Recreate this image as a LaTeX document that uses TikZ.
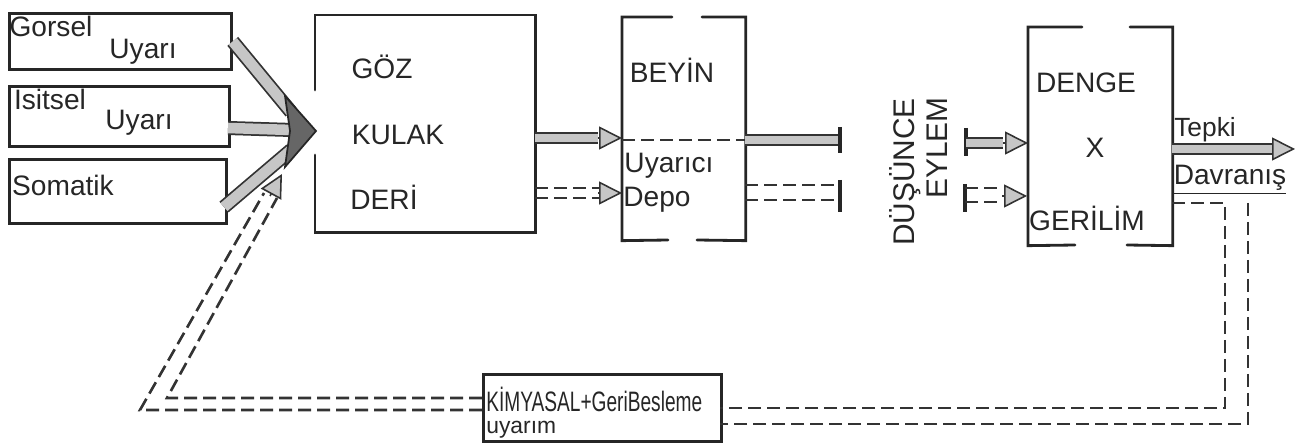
\documentclass[tikz,border=0pt]{standalone}
\usepackage{fontspec}
\usepackage{graphicx}
\setmainfont{Liberation Sans}
\usetikzlibrary{arrows.meta,calc}
\begin{document}
\begin{tikzpicture}[x=0.02cm,y=-0.02cm,
  lbl/.style={font=\fontsize{16}{18}\selectfont, text=black!85, inner sep=0},
  boxline/.style={line width=1.6pt, line cap=round, draw=black!85},
  band/.style={double=gray!45, double distance=5pt, line width=1pt, draw=black!80},
  ghead/.style={line width=0.9pt, draw=black!80, -{Triangle[length=0.46cm, width=0.46cm, fill=gray!45]}},
  ddash/.style={line width=1.5pt, draw=black!80, dash pattern=on 0.26cm off 0.12cm},
  tbar/.style={line width=2pt, draw=black!85}]
\useasboundingbox (0,0) rectangle (1297,448);

% ---------- left input boxes ----------
\node[boxline, draw, anchor=north west, inner sep=0, minimum width=4.44cm, minimum height=1.12cm] (gorsel) at (8,12) {};
\node[boxline, draw, anchor=north west, inner sep=0, minimum width=4.40cm, minimum height=1.20cm] (isitsel) at (8,85) {};
\node[boxline, draw, anchor=north west, inner sep=0, minimum width=4.34cm, minimum height=1.28cm] (somatik) at (8,158) {};
\node[lbl] (tG1) at (51,26) {Gorsel};
\node[lbl] (tG2) at (143,52) {Uyarı};
\node[lbl] (tI1) at (50,99) {Isitsel};
\node[lbl] (tI2) at (139,123) {Uyarı};
\node[lbl] (tS) at (63,185) {Somatik};

% ---------- GÖZ KULAK DERİ ----------
\node[anchor=north west, inner sep=0, minimum width=4.4cm, minimum height=4.34cm] (goz) at (315,15) {};
\draw[boxline] (315,90) -- (goz.north west) -- (goz.north east) -- (goz.south east) -- (goz.south west) -- (315,155);
\node[lbl] (tGoz) at (382,67) {GÖZ};
\node[lbl] (tKulak) at (398,135) {KULAK};
\node[lbl] (tDeri) at (384,197) {DERİ};

% ---------- BEYİN ----------
\node[anchor=north west, inner sep=0, minimum width=2.46cm, minimum height=4.46cm] (beyin) at (622,17) {};
\draw[boxline] (672,17) -- (beyin.north west) -- (beyin.south west) -- (668,240);
\draw[boxline] (702,17) -- (beyin.north east) -- (beyin.south east) -- (697,240);
\draw[ddash, line width=1.1pt] (622,140) -- (745,140);
\node[lbl] (tBeyin) at (672,70) {BEYİN};
\node[lbl] (tUyarici) at (669,166) {Uyarıcı};
\node[lbl] (tDepo) at (657,200) {Depo};

% ---------- DENGE X GERİLİM ----------
\node[anchor=north west, inner sep=0, minimum width=2.88cm, minimum height=4.36cm] (denge) at (1028,27) {};
\draw[boxline] (1082,27) -- (denge.north west) -- (denge.south west) -- (1075,245);
\draw[boxline] (1130,27) -- (denge.north east) -- (denge.south east) -- (1127,245);
\node[lbl] (tDenge) at (1086,83) {DENGE};
\node[lbl] (tX) at (1095,148) {X};
\node[lbl] (tGerilim) at (1087,218) {GERİLİM};

% ---------- vertical words ----------
\node[lbl, rotate=90, font=\fontsize{17}{19}\selectfont] (tDusunce) at (905,172) {DÜŞÜNCE};
\node[lbl, rotate=90, font=\fontsize{17}{19}\selectfont] (tEylem) at (937,148) {EYLEM};

% ---------- Tepki / Davranış ----------
\node[lbl, font=\fontsize{15}{17}\selectfont] (tTepki) at (1205,130) {Tepki};
\node[lbl] (tDavr) at (1230,180) {\underline{Davranış}};

% ---------- KİMYASAL box ----------
\node[boxline, draw, anchor=north west, inner sep=0, minimum width=4.76cm, minimum height=1.34cm] (kim) at (482,373) {};
\node[lbl, anchor=west, font=\fontsize{16}{18}\selectfont] (tKim) at (486,399) {\scalebox{0.68}[1]{KİMYASAL+GeriBesleme}};
\node[lbl, anchor=west, font=\fontsize{13}{15}\selectfont] (tUyarim) at (486,430) {uyarım};

% ---------- coordinates for connectors ----------
\coordinate (gOut) at (gorsel.east);
\coordinate (iOut) at (228,128);
\coordinate (sOut) at (224,207);
\coordinate (hTop) at (291,112);
\coordinate (hMid) at (292,130);
\coordinate (hBot) at (291,150);
\coordinate (hTip) at (316,131);

\coordinate (g1a) at (535,138);  \coordinate (g1b) at (598,138);  \coordinate (g1c) at (622,138);
\coordinate (g2a) at (535,188);  \coordinate (g2b) at (600,188);
\coordinate (g3a) at (535,198);  \coordinate (g3b) at (600,198);
\coordinate (g4b) at (598,193);  \coordinate (g4c) at (622,193);

\coordinate (b1a) at (745,140);  \coordinate (b1b) at (840,140);
\coordinate (b2a) at (745,185);  \coordinate (b2b) at (840,185);
\coordinate (b3a) at (745,200);  \coordinate (b3b) at (840,200);

\coordinate (e1a) at (966,143);  \coordinate (e1b) at (1003,143); \coordinate (e1c) at (1028,143);
\coordinate (e2a) at (965,188);  \coordinate (e2b) at (1002,188);
\coordinate (e3a) at (965,202);  \coordinate (e3b) at (1002,202);
\coordinate (e4b) at (1002,196); \coordinate (e4c) at (1027,196);

\coordinate (tpa) at (1172,149); \coordinate (tpb) at (1272,149); \coordinate (tpc) at (1295,149);

\coordinate (fi0) at (1172,203); \coordinate (fi1) at (1225,203); \coordinate (fi2) at (1225,408); \coordinate (fi3) at (720,408);
\coordinate (fo1) at (1248,203); \coordinate (fo2) at (1248,424); \coordinate (fo3) at (720,424);
\coordinate (li0) at (482,398);  \coordinate (li1) at (167,398);  \coordinate (li2) at (277,198);
\coordinate (lo0) at (482,410);  \coordinate (lo1) at (140,410);  \coordinate (lo2) at (264,193);
\coordinate (fbBase) at (270,196); \coordinate (fbTip) at (282,174);

% ---------- converging input arrow ----------
\draw[band, double distance=6pt] (gOut) -- (hTop);
\draw[band, double distance=6pt] (iOut) -- (hMid);
\draw[band, double distance=6pt] (sOut) -- (hBot);
\draw[line width=1pt, draw=black!85, fill=black!60] (hTip) -- (285,96) -- (290,131) -- (285,167) -- cycle;

% ---------- GÖZ -> BEYİN ----------
\draw[band] (g1a) -- (g1b);
\draw[ghead] (g1b) -- (g1c);
\draw[ddash] (g2a) -- (g2b);
\draw[ddash] (g3a) -- (g3b);
\draw[ghead] (g4b) -- (g4c);

% ---------- BEYİN -> bars ----------
\draw[band] (b1a) -- (b1b);
\draw[tbar] (840,127) -- (840,153);
\draw[ddash] (b2a) -- (b2b);
\draw[ddash] (b3a) -- (b3b);
\draw[tbar] (840,180) -- (840,212);

% ---------- bars -> DENGE ----------
\draw[tbar] (966,128) -- (966,156);
\draw[band] (e1a) -- (e1b);
\draw[ghead] (e1b) -- (e1c);
\draw[tbar] (965,184) -- (965,212);
\draw[ddash] (e2a) -- (e2b);
\draw[ddash] (e3a) -- (e3b);
\draw[ghead] (e4b) -- (e4c);

% ---------- Tepki arrow ----------
\draw[band] (tpa) -- (tpb);
\draw[ghead] (tpb) -- (tpc);

% ---------- feedback loop ----------
\draw[ddash] (fi0) -- (fi1) -- (fi2) -- (fi3);
\draw[ddash] (fo1) -- (fo2) -- (fo3);
\draw[ddash] (li0) -- (li1) -- (li2);
\draw[ddash] (lo0) -- (lo1) -- (lo2);
\draw[ghead] (fbBase) -- (fbTip);
\end{tikzpicture}
\end{document}
